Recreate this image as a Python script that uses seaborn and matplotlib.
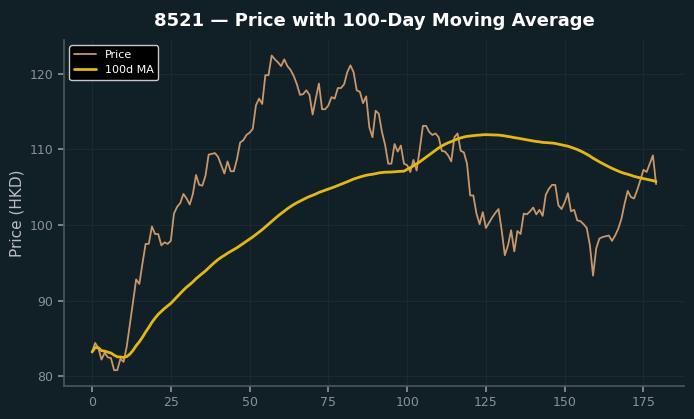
import matplotlib
matplotlib.use("Agg")
import matplotlib.pyplot as plt
import seaborn as sns
import numpy as np
import pandas as pd

# daily closing prices (day index 0..179)
price = [
    83.2, 84.4, 83.7, 82.2, 83.1, 82.5, 82.4, 80.8, 80.8, 82.3,
    81.9, 83.9, 86.8, 89.8, 92.8, 92.2, 94.9, 97.5, 97.5, 99.8,
    98.8, 98.8, 97.3, 97.7, 97.5, 97.9, 101.5, 102.4, 102.9, 104.1,
    103.5, 102.7, 104.1, 106.6, 105.3, 105.2, 106.5, 109.3, 109.4, 109.5,
    109.0, 107.9, 106.8, 108.4, 107.1, 107.1, 108.7, 110.9, 111.2, 111.9,
    112.2, 112.7, 115.8, 116.7, 116.0, 119.8, 119.8, 122.4, 121.9, 121.5,
    121.0, 121.9, 121.0, 120.5, 119.7, 118.6, 117.2, 117.3, 117.8, 117.2,
    114.6, 116.7, 118.7, 115.3, 115.3, 115.8, 116.9, 116.7, 118.1, 118.1,
    118.6, 120.2, 121.1, 120.2, 117.8, 117.6, 116.1, 117.0, 112.9, 111.6,
    115.1, 114.7, 112.3, 110.6, 108.1, 108.1, 110.7, 109.7, 110.5, 108.1,
    107.9, 107.0, 108.6, 107.2, 110.0, 113.1, 113.1, 112.3, 111.9, 112.1,
    111.6, 109.8, 109.7, 109.2, 108.4, 111.6, 112.1, 109.8, 109.6, 108.1,
    103.9, 103.9, 101.5, 100.1, 101.7, 99.6, 100.3, 101.0, 101.6, 102.1,
    99.3, 96.0, 97.3, 99.3, 96.5, 99.2, 98.8, 101.5, 101.4, 101.8,
    102.3, 101.4, 102.0, 101.2, 104.0, 104.8, 105.3, 105.3, 102.6, 102.1,
    103.0, 104.2, 101.8, 102.0, 100.6, 100.5, 100.1, 99.6, 97.3, 93.3,
    96.9, 98.2, 98.4, 98.5, 98.6, 97.9, 98.6, 99.5, 100.8, 102.8,
    104.5, 103.7, 103.5, 104.6, 105.9, 107.3, 107.0, 108.1, 109.2, 105.4,
]
days = list(range(len(price)))

df = pd.DataFrame({"day": days, "price": price})
df["ma100"] = df["price"].rolling(100, min_periods=1).mean()

bg = "#111f26"
sns.set_theme(style="dark")
plt.rcParams.update({
    "figure.facecolor": bg,
    "axes.facecolor": bg,
    "axes.edgecolor": "#4a5358",
    "axes.grid": True,
    "grid.color": "#1b2a31",
    "grid.linewidth": 0.8,
    "xtick.color": "#8a9196",
    "ytick.color": "#8a9196",
    "xtick.bottom": True,
    "ytick.left": True,
    "text.color": "white",
})
plt.rcParams["font.family"] = ["DejaVu Sans"]

fig = plt.figure(figsize=(6.94, 4.19), dpi=100)
ax = fig.add_axes([0.092, 0.079, 0.894, 0.826])

sns.lineplot(data=df, x="day", y="price", ax=ax, color="#c9976a",
             linewidth=1.3, label="Price")
sns.lineplot(data=df, x="day", y="ma100", ax=ax, color="#e3b719",
             linewidth=2.0, label="100d MA")

ax.set_title("8521 — Price with 100-Day Moving Average", color="white",
             fontsize=13, fontweight="bold", pad=10)
ax.set_xlabel("")
ax.set_ylabel("Price (HKD)", color="#b8bec2", fontsize=11)
ax.set_xticks([0, 25, 50, 75, 100, 125, 150, 175])
ax.set_yticks([80, 90, 100, 110, 120])
ax.tick_params(labelsize=9, length=4, color="#8a9196")
for side in ["top", "right"]:
    ax.spines[side].set_visible(False)

leg = ax.legend(loc="upper left", fontsize=8, facecolor="black",
                edgecolor="#c8c8c8", framealpha=1.0)
for t in leg.get_texts():
    t.set_color("white")

fig.savefig("out.png", dpi=100, facecolor=bg)
